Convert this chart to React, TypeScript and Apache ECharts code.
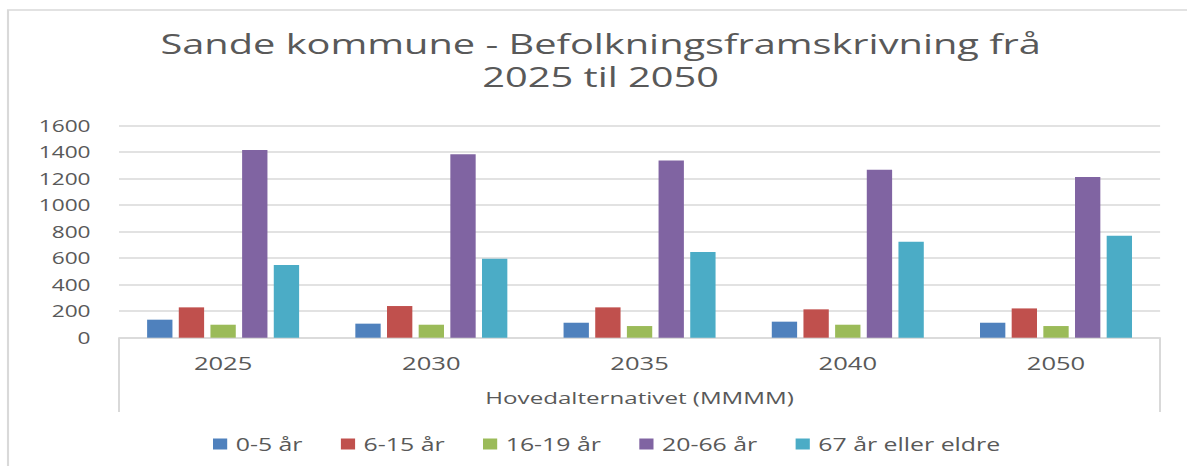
import React, { useEffect, useRef } from "react";
import * as echarts from "echarts";

const years = ["2025", "2030", "2035", "2040", "2050"];
const age0to5 = [136, 106, 113, 121, 113];
const age6to15 = [229, 239, 229, 214, 221];
const age16to19 = [98, 98, 88, 98, 88];
const age20to66 = [1417, 1384, 1338, 1268, 1213];
const age67plus = [549, 596, 647, 725, 770];
const seriesNames = ["0-5 år", "6-15 år", "16-19 år", "20-66 år", "67 år eller eldre"];
const seriesColors = ["#4F81BD", "#C0504D", "#9BBB59", "#8064A2", "#4BACC6"];
const titleLines = ["Sande kommune - Befolkningsframskrivning frå", "2025 til 2050"];
const axisName = "Hovedalternativet (MMMM)";

const PAGE_W = 1187;
const PAGE_H = 466;
const SX = 1.42;
const W = PAGE_W / SX;

export default function App() {
  const ref = useRef<HTMLDivElement>(null);
  useEffect(() => {
    if (!ref.current) return;
    const chart = echarts.init(ref.current, undefined, { renderer: "svg" });
    const gridLeft = 119 / SX;
    const gridRight = (PAGE_W - 1160) / SX;
    const gridTop = 125.7;
    const gridBottom = PAGE_H - 337.7;
    const font = "Open Sans";
    const txt = "#595959";
    const lineCol = "#d9d9d9";
    const data = [age0to5, age6to15, age16to19, age20to66, age67plus];
    const titleStyle = {
      fontFamily: font,
      fontSize: 28,
      fontWeight: "normal",
      color: txt,
    };
    chart.setOption({
      animation: false,
      backgroundColor: "#ffffff",
      title: [
        { text: titleLines[0], left: 423, top: 29, textAlign: "center", padding: 0, textStyle: titleStyle },
        { text: titleLines[1], left: 423, top: 62, textAlign: "center", padding: 0, textStyle: titleStyle },
      ],
      legend: {
        data: seriesNames,
        left: 145,
        top: 430,
        itemWidth: 10,
        itemHeight: 11,
        itemGap: 27,
        icon: "rect",
        textStyle: { fontFamily: font, fontSize: 17.5, color: txt, padding: [0, 0, 0, 1] },
      },
      grid: { left: gridLeft, right: gridRight, top: gridTop, bottom: gridBottom, containLabel: false },
      xAxis: {
        type: "category",
        data: years,
        name: axisName,
        nameLocation: "middle",
        nameGap: 51,
        nameTextStyle: { fontFamily: font, fontSize: 17, color: txt },
        axisLine: { lineStyle: { color: lineCol, width: 1.5 } },
        axisTick: { show: false },
        axisLabel: { fontFamily: font, fontSize: 18, color: txt, margin: 16 },
      },
      yAxis: {
        type: "value",
        min: 0,
        max: 1600,
        interval: 200,
        axisLine: { show: false },
        axisTick: { show: false },
        splitLine: { lineStyle: { color: lineCol, width: 1.5 } },
        axisLabel: {
          fontFamily: font,
          fontSize: 16,
          color: txt,
          margin: 20,
          formatter: (v: number) => String(v),
        },
      },
      series: seriesNames.map((name, i) => ({
        name,
        type: "bar",
        data: data[i],
        barCategoryGap: "27%",
        barGap: "25%",
        itemStyle: { color: seriesColors[i] },
      })),
      graphic: [
        {
          type: "rect",
          shape: { x: 8 / SX, y: 10, width: W + 100, height: PAGE_H + 100 },
          style: { fill: "none", stroke: lineCol, lineWidth: 1.5 },
          silent: true,
        },
        {
          type: "line",
          shape: { x1: gridLeft, y1: PAGE_H - gridBottom, x2: gridLeft, y2: 412 },
          style: { stroke: lineCol, lineWidth: 1.4 },
          silent: true,
        },
        {
          type: "line",
          shape: { x1: W - gridRight, y1: PAGE_H - gridBottom, x2: W - gridRight, y2: 412 },
          style: { stroke: lineCol, lineWidth: 1.4 },
          silent: true,
        },
      ],
    });
    return () => chart.dispose();
  }, []);
  return (
    <div
      style={{
        position: "fixed",
        left: 0,
        top: 0,
        width: PAGE_W,
        height: PAGE_H,
        overflow: "hidden",
        background: "#fff",
      }}
    >
      <div
        ref={ref}
        style={{
          width: W,
          height: PAGE_H,
          transform: `scaleX(${SX})`,
          transformOrigin: "0 0",
        }}
      />
    </div>
  );
}
